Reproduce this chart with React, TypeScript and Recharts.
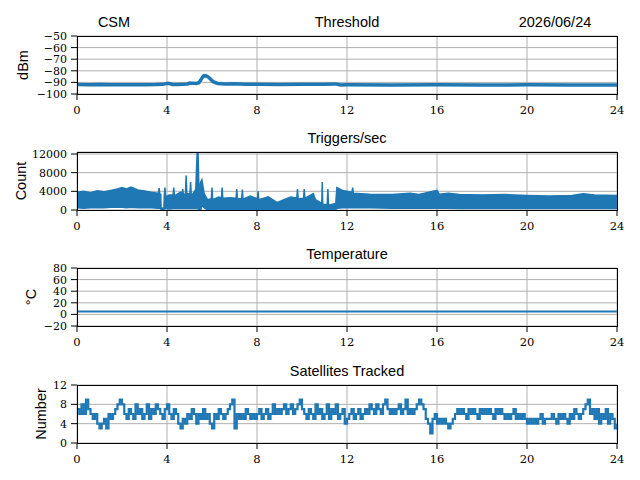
import React from 'react';
import {
  LineChart, Line, AreaChart, Area, XAxis, YAxis, CartesianGrid,
} from 'recharts';

// hours of the day on every panel
const xTicks = [0, 4, 8, 12, 16, 20, 24];

// Threshold (dBm)
const thrT = [0, 0.5, 1, 1.5, 2, 2.5, 3, 3.5, 3.8, 4.05, 4.25, 4.5, 4.9, 5.0, 5.3, 5.42, 5.5, 5.58, 5.65, 5.75, 5.85, 5.95, 6.05, 6.25, 6.6, 7.0, 7.5, 8, 9, 10, 11, 11.5, 11.7, 12, 14, 16, 18, 20, 22, 24];
const thrV = [-91.8, -92, -91.9, -92.1, -92, -92.1, -92, -91.9, -91.7, -90.8, -91.8, -91.9, -91.4, -90.6, -90.9, -90.2, -88, -85.5, -84.2, -84.4, -85.6, -87.5, -89.4, -90.9, -91.3, -91.2, -91.5, -91.6, -91.8, -91.6, -91.5, -91.3, -92.2, -92.1, -92.2, -92.1, -92.2, -92.1, -92.2, -92.2];
const thrTicks = [-100, -90, -80, -70, -60, -50];

// Triggers/sec: envelope of the dense trace (low, high)
const trgT = [0, 0.3, 0.6, 0.9, 1.2, 1.5, 1.8, 2.0, 2.2, 2.4, 2.7, 3.0, 3.3, 3.6, 3.62, 3.65, 3.68, 3.72, 3.74, 3.86, 3.88, 3.91, 3.94, 4.1, 4.27, 4.3, 4.33, 4.6, 4.67, 4.7, 4.73, 4.82, 4.85, 4.88, 5.02, 5.05, 5.08, 5.2, 5.28, 5.34, 5.38, 5.42, 5.5, 5.55, 5.65, 5.8, 5.97, 6.0, 6.03, 6.3, 6.42, 6.45, 6.48, 6.8, 7.07, 7.1, 7.13, 7.32, 7.35, 7.38, 7.7, 8.02, 8.05, 8.08, 8.5, 8.9, 9.2, 9.5, 9.77, 9.8, 9.83, 10.07, 10.1, 10.13, 10.5, 10.6, 10.85, 10.88, 10.9, 10.92, 11.12, 11.15, 11.18, 11.5, 11.55, 11.8, 12.22, 12.25, 12.28, 13, 14, 14.8, 15.2, 16.0, 16.1, 16.5, 17, 18, 19, 20, 21, 22, 22.5, 23, 24];
const trgLo = [500, 400, 500, 500, 500, 600, 600, 600, 500, 600, 500, 500, 500, 400, 400, 400, 400, 400, 0, 0, 300, 300, 300, 200, 300, 300, 300, 300, 300, 300, 300, 300, 300, 300, 300, 300, 300, 300, 300, 300, 300, 0, 0, 1000, 500, 0, 100, 100, 100, 100, 100, 100, 100, 100, 100, 100, 100, 100, 100, 100, 100, 100, 100, 100, 100, 100, 100, 100, 100, 100, 100, 100, 100, 100, 100, 100, 0, 0, 0, 0, 0, 0, 0, 100, 400, 500, 500, 500, 500, 500, 400, 400, 400, 400, 400, 400, 300, 300, 300, 300, 300, 300, 300, 300, 300];
const trgHi = [3800, 4000, 3700, 4100, 3900, 4200, 4500, 4800, 4500, 4900, 4300, 4100, 3800, 3600, 3600, 4700, 3400, 3400, 300, 500, 3000, 4800, 2800, 3200, 3200, 4800, 3000, 3800, 3500, 4500, 3200, 3500, 7400, 3500, 3500, 6000, 3000, 3800, 4500, 12500, 12500, 4000, 6000, 6500, 3500, 2200, 2400, 4800, 2200, 2800, 2600, 4800, 2500, 2600, 2500, 4500, 2400, 2400, 4400, 2300, 3000, 2400, 4000, 2200, 2800, 1600, 2200, 2800, 2600, 4500, 2400, 2500, 4500, 2500, 3500, 2200, 1500, 1500, 6000, 1200, 1200, 4500, 1000, 1400, 4800, 4200, 3800, 4800, 3600, 3400, 3300, 3600, 3300, 4200, 3400, 3600, 3300, 3200, 3300, 3100, 3000, 3100, 3500, 3200, 3100];
const trgTicks = [0, 4000, 8000, 12000];

// Temperature (°C)
const tmpT = [0, 6, 12, 18, 24];
const tmpV = [5, 5, 5, 5, 5];
const tmpTicks = [-20, 0, 20, 40, 60, 80];

// Satellites tracked, one reading every 0.1 h
const satV = [
  7, 6, 8, 6, 9, 7, 6, 5, 6, 4,
  3, 4, 5, 3, 6, 5, 6, 7, 8, 9,
  8, 6, 5, 7, 6, 5, 8, 6, 7, 5,
  6, 8, 5, 7, 6, 8, 7, 6, 5, 7,
  8, 6, 5, 7, 6, 4, 3, 5, 4, 6,
  5, 7, 6, 4, 6, 5, 7, 5, 6, 4,
  3, 6, 5, 7, 6, 5, 6, 7, 8, 9,
  3, 6, 5, 6, 5, 7, 6, 5, 6, 5,
  6, 7, 5, 6, 7, 5, 6, 8, 6, 7,
  6, 7, 8, 6, 7, 8, 6, 7, 8, 9,
  7, 6, 5, 7, 6, 5, 8, 6, 7, 5,
  6, 8, 5, 7, 6, 8, 5, 6, 7, 4,
  5, 6, 7, 5, 6, 7, 5, 6, 7, 6,
  8, 7, 6, 8, 7, 6, 8, 9, 7, 6,
  7, 6, 7, 8, 6, 7, 9, 6, 7, 6,
  7, 8, 9, 8, 7, 5, 4, 2, 5, 6,
  4, 5, 4, 5, 4, 3, 4, 5, 6, 7,
  6, 7, 6, 5, 7, 6, 7, 6, 5, 7,
  6, 7, 6, 7, 6, 5, 7, 6, 7, 6,
  5, 6, 5, 6, 7, 5, 6, 5, 6, 5,
  4, 5, 4, 5, 4, 5, 6, 4, 5, 5,
  5, 6, 5, 4, 6, 5, 6, 5, 4, 6,
  5, 7, 6, 5, 6, 7, 8, 9, 6, 7,
  5, 7, 4, 6, 5, 7, 4, 6, 5, 3,
  4,
];
const satTicks = [0, 4, 8, 12];

const thrData = thrT.map((t, i) => ({ t, v: thrV[i] }));
const trgData = trgT.map((t, i) => ({ t, range: [trgLo[i], trgHi[i]] }));
const tmpData = tmpT.map((t, i) => ({ t, v: tmpV[i] }));
const satData = satV.map((v, i) => ({ t: i / 10, v }));

const BLUE = '#1f77b4';
const W = 640;
const LEFT = 77;
const PW = 540;
const PH = 58;
const PAD = 10;
const CH = PAD + PH + 30;

const serif = 'DejaVu Serif';
const sans = '"Liberation Sans", sans-serif';

// tick labels in a serif face, with a real minus sign
function XTick({ x, y, payload }: any) {
  return (
    <text x={x} y={y + 12} textAnchor="middle" fill="#000" fontFamily={serif} fontSize={11.5}>
      {String(payload.value).replace('-', '\u2212')}
    </text>
  );
}

function YTick({ x, y, payload }: any) {
  return (
    <text x={x} y={y + 4} textAnchor="end" fill="#000" fontFamily={serif} fontSize={11}>
      {String(payload.value).replace('-', '\u2212')}
    </text>
  );
}

const xAxis = (
  <XAxis
    dataKey="t" type="number" domain={[0, 24]} ticks={xTicks} interval={0}
    axisLine={false} tickLine={{ stroke: '#000' }} tick={<XTick />}
    tickMargin={2} height={30}
  />
);

const grid = <CartesianGrid stroke="#b0b0b0" strokeWidth={1} />;

function Text({ x, y, rotate, children }: { x: number; y: number; rotate?: boolean; children: React.ReactNode }) {
  return (
    <div
      style={{
        position: 'absolute', left: x, top: y, fontFamily: sans, fontSize: 14.5,
        lineHeight: 1, whiteSpace: 'nowrap', color: '#000',
        transform: `translate(-50%, -50%)${rotate ? ' rotate(-90deg)' : ''}`,
      }}
    >
      {children}
    </div>
  );
}

function Frame({ top, title, ylabel, ylabelX, children }: { top: number; title: string; ylabel: string; ylabelX: number; children: React.ReactNode }) {
  return (
    <>
      <div style={{ position: 'absolute', left: 0, top: top - PAD }}>{children}</div>
      <div
        style={{
          position: 'absolute', left: LEFT, top, width: PW + 1, height: PH + 1,
          border: '1px solid #000', boxSizing: 'border-box', pointerEvents: 'none',
        }}
      />
      <Text x={LEFT + PW / 2} y={top - 14}>{title}</Text>
      <Text x={ylabelX} y={top + PH / 2} rotate>{ylabel}</Text>
    </>
  );
}

const margin = { top: PAD, right: W - LEFT - PW, bottom: 0, left: 0 };

function yAxis(domain: number[], ticks: number[], overflow = false) {
  return (
    <YAxis
      type="number" domain={domain} ticks={ticks} interval={0} width={LEFT}
      allowDataOverflow={overflow} axisLine={false} tickLine={{ stroke: '#000' }}
      tick={<YTick />} tickMargin={4}
    />
  );
}

export default function App() {
  return (
    <div style={{ position: 'absolute', left: 0, top: 0, width: W, height: 480, background: '#fff', overflow: 'hidden' }}>
      <Text x={114} y={22}>CSM</Text>
      <Text x={555} y={22}>2026/06/24</Text>

      <Frame top={36} title="Threshold" ylabel="dBm" ylabelX={23}>
        <LineChart width={W} height={CH} data={thrData} margin={margin}>
          {grid}
          {xAxis}
          {yAxis([-100, -50], thrTicks)}
          <Line dataKey="v" stroke={BLUE} strokeWidth={3.5} dot={false} isAnimationActive={false} />
        </LineChart>
      </Frame>

      <Frame top={152} title="Triggers/sec" ylabel="Count" ylabelX={21}>
        <AreaChart width={W} height={CH} data={trgData} margin={margin}>
          {grid}
          {xAxis}
          {yAxis([0, 12430], trgTicks, true)}
          <Area
            dataKey="range" type="linear" stroke={BLUE} strokeWidth={1.5}
            fill={BLUE} fillOpacity={1} dot={false} isAnimationActive={false}
          />
        </AreaChart>
      </Frame>

      <Frame top={268} title="Temperature" ylabel="°C" ylabelX={31}>
        <LineChart width={W} height={CH} data={tmpData} margin={margin}>
          {grid}
          {xAxis}
          {yAxis([-20, 80], tmpTicks)}
          <Line dataKey="v" stroke={BLUE} strokeWidth={2} dot={false} isAnimationActive={false} />
        </LineChart>
      </Frame>

      <Frame top={385} title="Satellites Tracked" ylabel="Number" ylabelX={41}>
        <LineChart width={W} height={CH} data={satData} margin={margin}>
          {grid}
          {xAxis}
          {yAxis([0, 12], satTicks)}
          <Line type="stepAfter" dataKey="v" stroke={BLUE} strokeWidth={2.2} dot={false} isAnimationActive={false} />
        </LineChart>
      </Frame>
    </div>
  );
}
